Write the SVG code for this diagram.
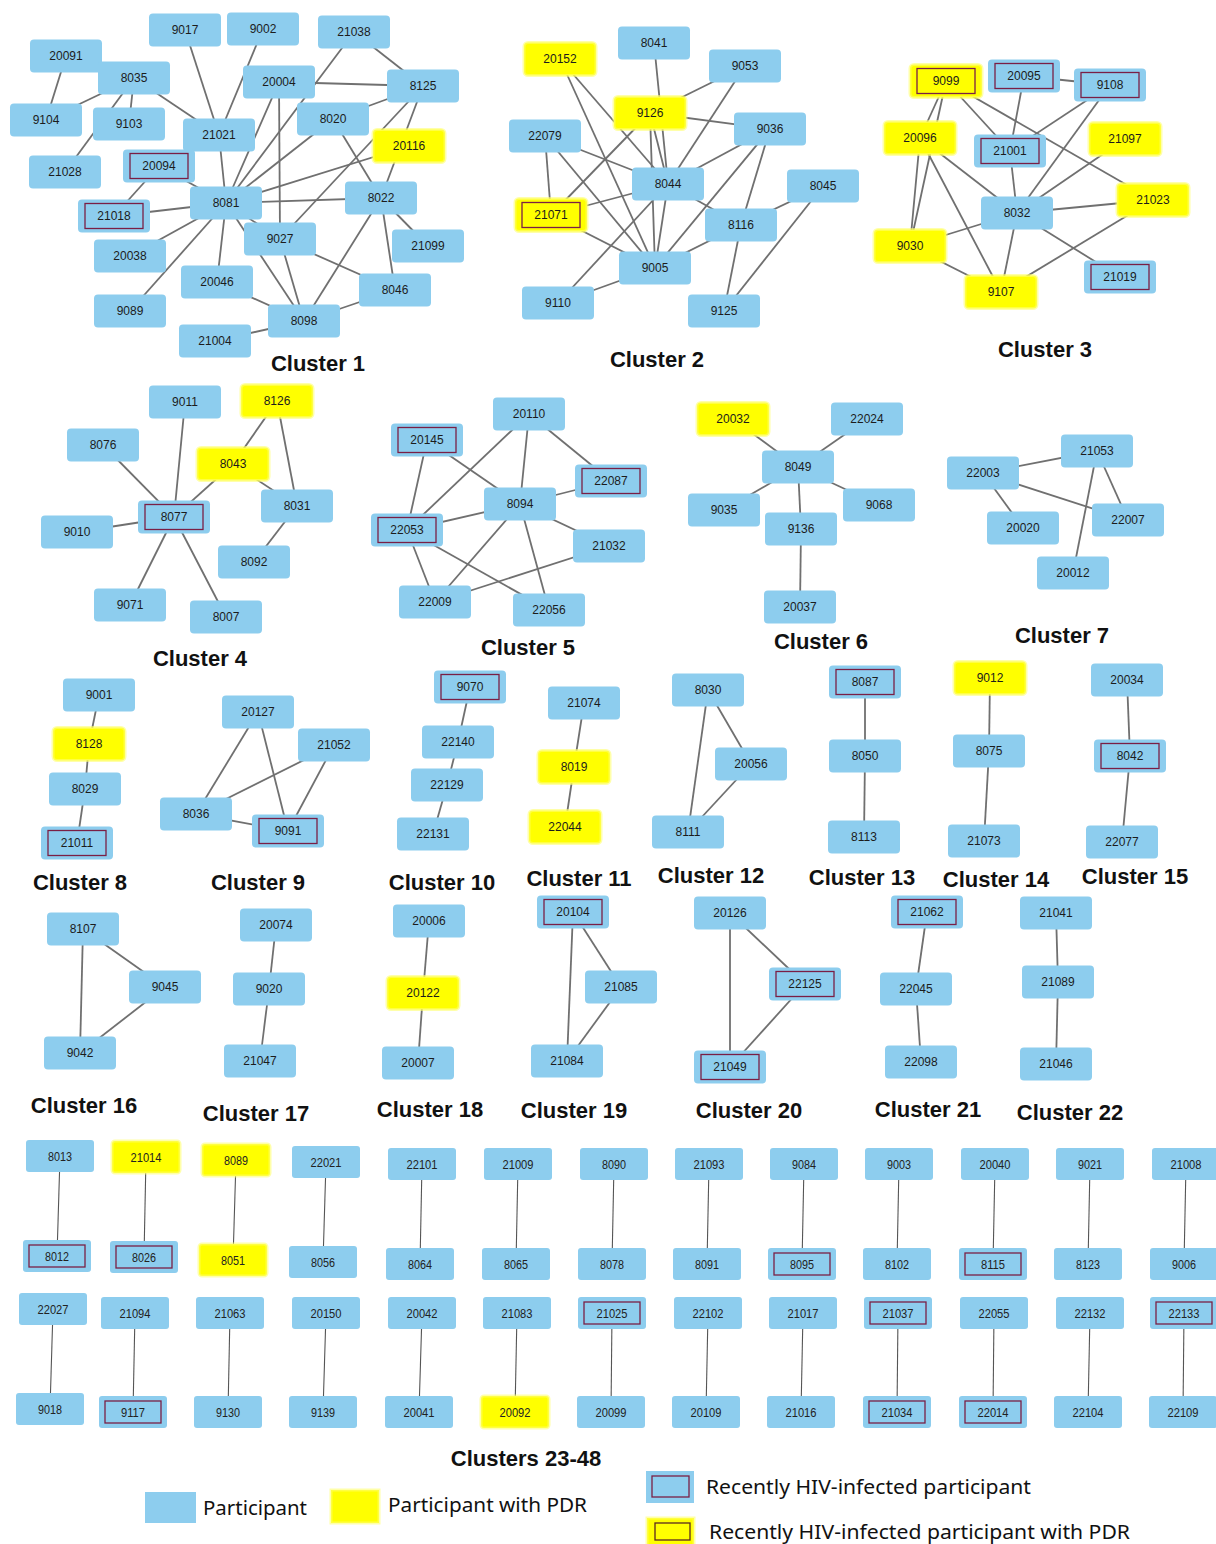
<svg xmlns="http://www.w3.org/2000/svg" xmlns:xlink="http://www.w3.org/1999/xlink" width="1216" height="1544" viewBox="0 0 1216 1544">
<style>
.b{fill:#8DCDEE}
.y{fill:#FFFF00;stroke:#FFFF70;stroke-width:3;stroke-opacity:.6}
.r{fill:none;stroke:#7A1F45;stroke-width:1.3}
.t{font-family:"Liberation Sans",Arial,sans-serif;font-size:12px;fill:#1c1c1c;text-anchor:middle}
.ts{font-family:"Liberation Sans",Arial,sans-serif;font-size:13px;fill:#222;text-anchor:middle}
.e line{stroke:#707070;stroke-width:1.8}
.e2 line{stroke:#555;stroke-width:1.1}
.lbl{font-family:"Liberation Sans",Arial,sans-serif;font-size:22px;font-weight:bold;fill:#111;text-anchor:middle}
.lg{font-family:"Noto Sans","Liberation Sans",sans-serif;font-size:20px;fill:#111}
</style>
<defs>
<rect id="B" x="-36" y="-16.5" width="72" height="33" rx="4"/>
<rect id="R" x="-29" y="-12.5" width="58" height="25"/>
<rect id="S" x="-34" y="-16" width="68" height="32" rx="3"/>
<rect id="RS" x="-28" y="-11" width="56" height="22"/>
</defs>
<rect width="1216" height="1544" fill="#fff"/>

<g id="connectors">
<g class="e">
<!-- cluster 1 -->
<line x1="66" y1="56" x2="46" y2="120"/>
<line x1="134" y1="78" x2="46" y2="120"/>
<line x1="134" y1="78" x2="129" y2="124"/>
<line x1="134" y1="78" x2="65" y2="172"/>
<line x1="134" y1="78" x2="219" y2="135"/>
<line x1="185" y1="30" x2="219" y2="135"/>
<line x1="263" y1="29" x2="219" y2="135"/>
<line x1="219" y1="135" x2="226" y2="203"/>
<line x1="354" y1="32" x2="226" y2="203"/>
<line x1="354" y1="32" x2="423" y2="86"/>
<line x1="279" y1="82" x2="423" y2="86"/>
<line x1="279" y1="82" x2="226" y2="203"/>
<line x1="279" y1="82" x2="280" y2="239"/>
<line x1="333" y1="119" x2="423" y2="86"/>
<line x1="333" y1="119" x2="381" y2="198"/>
<line x1="333" y1="119" x2="226" y2="203"/>
<line x1="423" y1="86" x2="381" y2="198"/>
<line x1="423" y1="86" x2="280" y2="239"/>
<line x1="409" y1="146" x2="226" y2="203"/>
<line x1="226" y1="203" x2="381" y2="198"/>
<line x1="381" y1="198" x2="428" y2="246"/>
<line x1="381" y1="198" x2="395" y2="290"/>
<line x1="381" y1="198" x2="304" y2="321"/>
<line x1="280" y1="239" x2="395" y2="290"/>
<line x1="280" y1="239" x2="304" y2="321"/>
<line x1="226" y1="203" x2="304" y2="321"/>
<line x1="226" y1="203" x2="280" y2="239"/>
<line x1="304" y1="321" x2="395" y2="290"/>
<line x1="304" y1="321" x2="217" y2="282"/>
<line x1="304" y1="321" x2="215" y2="341"/>
<line x1="226" y1="203" x2="217" y2="282"/>
<line x1="226" y1="203" x2="130" y2="311"/>
<line x1="226" y1="203" x2="130" y2="256"/>
<line x1="226" y1="203" x2="114" y2="216"/>
<line x1="159" y1="166" x2="114" y2="216"/>
<line x1="159" y1="166" x2="226" y2="203"/>
<!-- cluster 2 -->
<line x1="654" y1="43" x2="668" y2="184"/>
<line x1="745" y1="66" x2="650" y2="113"/>
<line x1="745" y1="66" x2="668" y2="184"/>
<line x1="650" y1="113" x2="770" y2="129"/>
<line x1="650" y1="113" x2="668" y2="184"/>
<line x1="650" y1="113" x2="655" y2="268"/>
<line x1="650" y1="113" x2="551" y2="215"/>
<line x1="560" y1="59" x2="655" y2="268"/>
<line x1="560" y1="59" x2="668" y2="184"/>
<line x1="545" y1="136" x2="668" y2="184"/>
<line x1="545" y1="136" x2="551" y2="215"/>
<line x1="545" y1="136" x2="655" y2="268"/>
<line x1="551" y1="215" x2="668" y2="184"/>
<line x1="551" y1="215" x2="655" y2="268"/>
<line x1="770" y1="129" x2="668" y2="184"/>
<line x1="770" y1="129" x2="655" y2="268"/>
<line x1="770" y1="129" x2="741" y2="225"/>
<line x1="668" y1="184" x2="558" y2="303"/>
<line x1="668" y1="184" x2="655" y2="268"/>
<line x1="668" y1="184" x2="741" y2="225"/>
<line x1="655" y1="268" x2="558" y2="303"/>
<line x1="655" y1="268" x2="741" y2="225"/>
<line x1="741" y1="225" x2="823" y2="186"/>
<line x1="741" y1="225" x2="724" y2="311"/>
<line x1="823" y1="186" x2="724" y2="311"/>
<!-- cluster 3 -->
<line x1="1024" y1="76" x2="1110" y2="85"/>
<line x1="1024" y1="76" x2="1010" y2="151"/>
<line x1="1110" y1="85" x2="1010" y2="151"/>
<line x1="1110" y1="85" x2="1017" y2="213"/>
<line x1="946" y1="81" x2="920" y2="138"/>
<line x1="946" y1="81" x2="910" y2="246"/>
<line x1="946" y1="81" x2="1010" y2="151"/>
<line x1="946" y1="81" x2="1153" y2="200"/>
<line x1="920" y1="138" x2="910" y2="246"/>
<line x1="920" y1="138" x2="1017" y2="213"/>
<line x1="920" y1="138" x2="1001" y2="292"/>
<line x1="1010" y1="151" x2="1017" y2="213"/>
<line x1="1125" y1="139" x2="1017" y2="213"/>
<line x1="1153" y1="200" x2="1017" y2="213"/>
<line x1="1153" y1="200" x2="1001" y2="292"/>
<line x1="1017" y1="213" x2="910" y2="246"/>
<line x1="1017" y1="213" x2="1001" y2="292"/>
<line x1="1017" y1="213" x2="1120" y2="277"/>
<line x1="910" y1="246" x2="1001" y2="292"/>
<!-- cluster 4 -->
<line x1="185" y1="402" x2="174" y2="517"/>
<line x1="103" y1="445" x2="174" y2="517"/>
<line x1="233" y1="464" x2="174" y2="517"/>
<line x1="277" y1="401" x2="233" y2="464"/>
<line x1="277" y1="401" x2="297" y2="506"/>
<line x1="233" y1="464" x2="297" y2="506"/>
<line x1="297" y1="506" x2="254" y2="562"/>
<line x1="174" y1="517" x2="77" y2="532"/>
<line x1="174" y1="517" x2="130" y2="605"/>
<line x1="174" y1="517" x2="226" y2="617"/>
<!-- cluster 5 -->
<line x1="529" y1="414" x2="407" y2="530"/>
<line x1="529" y1="414" x2="520" y2="504"/>
<line x1="529" y1="414" x2="611" y2="481"/>
<line x1="427" y1="440" x2="407" y2="530"/>
<line x1="427" y1="440" x2="520" y2="504"/>
<line x1="611" y1="481" x2="520" y2="504"/>
<line x1="520" y1="504" x2="407" y2="530"/>
<line x1="520" y1="504" x2="609" y2="546"/>
<line x1="520" y1="504" x2="435" y2="602"/>
<line x1="520" y1="504" x2="549" y2="610"/>
<line x1="407" y1="530" x2="435" y2="602"/>
<line x1="407" y1="530" x2="549" y2="610"/>
<line x1="609" y1="546" x2="435" y2="602"/>
<!-- cluster 6 -->
<line x1="733" y1="419" x2="798" y2="467"/>
<line x1="867" y1="419" x2="798" y2="467"/>
<line x1="798" y1="467" x2="724" y2="510"/>
<line x1="798" y1="467" x2="879" y2="505"/>
<line x1="798" y1="467" x2="801" y2="529"/>
<line x1="801" y1="529" x2="800" y2="607"/>
<!-- cluster 7 -->
<line x1="983" y1="473" x2="1097" y2="451"/>
<line x1="983" y1="473" x2="1023" y2="528"/>
<line x1="983" y1="473" x2="1128" y2="520"/>
<line x1="1097" y1="451" x2="1128" y2="520"/>
<line x1="1097" y1="451" x2="1073" y2="573"/>
<!-- clusters 8-15 -->
<line x1="99" y1="695" x2="89" y2="744"/>
<line x1="89" y1="744" x2="85" y2="789"/>
<line x1="85" y1="789" x2="77" y2="843"/>
<line x1="258" y1="712" x2="196" y2="814"/>
<line x1="258" y1="712" x2="288" y2="831"/>
<line x1="334" y1="745" x2="196" y2="814"/>
<line x1="334" y1="745" x2="288" y2="831"/>
<line x1="196" y1="814" x2="288" y2="831"/>
<line x1="470" y1="687" x2="458" y2="742"/>
<line x1="458" y1="742" x2="447" y2="785"/>
<line x1="447" y1="785" x2="433" y2="834"/>
<line x1="584" y1="703" x2="574" y2="767"/>
<line x1="574" y1="767" x2="565" y2="827"/>
<line x1="708" y1="690" x2="751" y2="764"/>
<line x1="708" y1="690" x2="688" y2="832"/>
<line x1="751" y1="764" x2="688" y2="832"/>
<line x1="865" y1="682" x2="865" y2="756"/>
<line x1="865" y1="756" x2="864" y2="837"/>
<line x1="990" y1="678" x2="989" y2="751"/>
<line x1="989" y1="751" x2="984" y2="841"/>
<line x1="1127" y1="680" x2="1130" y2="756"/>
<line x1="1130" y1="756" x2="1122" y2="842"/>
<!-- clusters 16-22 -->
<line x1="83" y1="929" x2="80" y2="1053"/>
<line x1="83" y1="929" x2="165" y2="987"/>
<line x1="165" y1="987" x2="80" y2="1053"/>
<line x1="276" y1="925" x2="269" y2="989"/>
<line x1="269" y1="989" x2="260" y2="1061"/>
<line x1="429" y1="921" x2="423" y2="993"/>
<line x1="423" y1="993" x2="418" y2="1063"/>
<line x1="573" y1="912" x2="567" y2="1061"/>
<line x1="573" y1="912" x2="621" y2="987"/>
<line x1="621" y1="987" x2="567" y2="1061"/>
<line x1="730" y1="913" x2="730" y2="1067"/>
<line x1="730" y1="913" x2="805" y2="984"/>
<line x1="805" y1="984" x2="730" y2="1067"/>
<line x1="927" y1="912" x2="916" y2="989"/>
<line x1="916" y1="989" x2="921" y2="1062"/>
<line x1="1056" y1="913" x2="1058" y2="982"/>
<line x1="1058" y1="982" x2="1056" y2="1064"/>
</g>
<g class="e2">
<line x1="60" y1="1156" x2="57" y2="1256"/>
<line x1="146" y1="1157" x2="144" y2="1257"/>
<line x1="236" y1="1160" x2="233" y2="1260"/>
<line x1="326" y1="1162" x2="323" y2="1262"/>
<line x1="422" y1="1164" x2="420" y2="1264"/>
<line x1="518" y1="1164" x2="516" y2="1264"/>
<line x1="614" y1="1164" x2="612" y2="1264"/>
<line x1="709" y1="1164" x2="707" y2="1264"/>
<line x1="804" y1="1164" x2="802" y2="1264"/>
<line x1="899" y1="1164" x2="897" y2="1264"/>
<line x1="995" y1="1164" x2="993" y2="1264"/>
<line x1="1090" y1="1164" x2="1088" y2="1264"/>
<line x1="1186" y1="1164" x2="1184" y2="1264"/>
<line x1="53" y1="1309" x2="50" y2="1409"/>
<line x1="135" y1="1313" x2="133" y2="1412"/>
<line x1="230" y1="1313" x2="228" y2="1412"/>
<line x1="326" y1="1313" x2="323" y2="1412"/>
<line x1="422" y1="1313" x2="419" y2="1412"/>
<line x1="517" y1="1313" x2="515" y2="1412"/>
<line x1="612" y1="1313" x2="611" y2="1412"/>
<line x1="708" y1="1313" x2="706" y2="1412"/>
<line x1="803" y1="1313" x2="801" y2="1412"/>
<line x1="898" y1="1313" x2="897" y2="1412"/>
<line x1="994" y1="1313" x2="993" y2="1412"/>
<line x1="1090" y1="1313" x2="1088" y2="1412"/>
<line x1="1184" y1="1313" x2="1183" y2="1412"/>
</g>
</g>

<g id="nodes">
<!-- cluster 1 -->
<g id="n9017" transform="translate(185,30)"><use href="#B" class="b"/><text class="t" y="4">9017</text></g>
<g id="n9002" transform="translate(263,29)"><use href="#B" class="b"/><text class="t" y="4">9002</text></g>
<g id="n21038" transform="translate(354,32)"><use href="#B" class="b"/><text class="t" y="4">21038</text></g>
<g id="n20091" transform="translate(66,56)"><use href="#B" class="b"/><text class="t" y="4">20091</text></g>
<g id="n8035" transform="translate(134,78)"><use href="#B" class="b"/><text class="t" y="4">8035</text></g>
<g id="n20004" transform="translate(279,82)"><use href="#B" class="b"/><text class="t" y="4">20004</text></g>
<g id="n8125" transform="translate(423,86)"><use href="#B" class="b"/><text class="t" y="4">8125</text></g>
<g id="n9104" transform="translate(46,120)"><use href="#B" class="b"/><text class="t" y="4">9104</text></g>
<g id="n9103" transform="translate(129,124)"><use href="#B" class="b"/><text class="t" y="4">9103</text></g>
<g id="n21021" transform="translate(219,135)"><use href="#B" class="b"/><text class="t" y="4">21021</text></g>
<g id="n8020" transform="translate(333,119)"><use href="#B" class="b"/><text class="t" y="4">8020</text></g>
<g id="n20116" transform="translate(409,146)"><use href="#B" class="y"/><text class="t" y="4">20116</text></g>
<g id="n21028" transform="translate(65,172)"><use href="#B" class="b"/><text class="t" y="4">21028</text></g>
<g id="n20094" transform="translate(159,166)"><use href="#B" class="b"/><use href="#R" class="r"/><text class="t" y="4">20094</text></g>
<g id="n8081" transform="translate(226,203)"><use href="#B" class="b"/><text class="t" y="4">8081</text></g>
<g id="n8022" transform="translate(381,198)"><use href="#B" class="b"/><text class="t" y="4">8022</text></g>
<g id="n21018" transform="translate(114,216)"><use href="#B" class="b"/><use href="#R" class="r"/><text class="t" y="4">21018</text></g>
<g id="n9027" transform="translate(280,239)"><use href="#B" class="b"/><text class="t" y="4">9027</text></g>
<g id="n21099" transform="translate(428,246)"><use href="#B" class="b"/><text class="t" y="4">21099</text></g>
<g id="n20038" transform="translate(130,256)"><use href="#B" class="b"/><text class="t" y="4">20038</text></g>
<g id="n20046" transform="translate(217,282)"><use href="#B" class="b"/><text class="t" y="4">20046</text></g>
<g id="n8046" transform="translate(395,290)"><use href="#B" class="b"/><text class="t" y="4">8046</text></g>
<g id="n9089" transform="translate(130,311)"><use href="#B" class="b"/><text class="t" y="4">9089</text></g>
<g id="n8098" transform="translate(304,321)"><use href="#B" class="b"/><text class="t" y="4">8098</text></g>
<g id="n21004" transform="translate(215,341)"><use href="#B" class="b"/><text class="t" y="4">21004</text></g>
<!-- cluster 2 -->
<g id="n20152" transform="translate(560,59)"><use href="#B" class="y"/><text class="t" y="4">20152</text></g>
<g id="n8041" transform="translate(654,43)"><use href="#B" class="b"/><text class="t" y="4">8041</text></g>
<g id="n9053" transform="translate(745,66)"><use href="#B" class="b"/><text class="t" y="4">9053</text></g>
<g id="n9126" transform="translate(650,113)"><use href="#B" class="y"/><text class="t" y="4">9126</text></g>
<g id="n22079" transform="translate(545,136)"><use href="#B" class="b"/><text class="t" y="4">22079</text></g>
<g id="n9036" transform="translate(770,129)"><use href="#B" class="b"/><text class="t" y="4">9036</text></g>
<g id="n8044" transform="translate(668,184)"><use href="#B" class="b"/><text class="t" y="4">8044</text></g>
<g id="n8045" transform="translate(823,186)"><use href="#B" class="b"/><text class="t" y="4">8045</text></g>
<g id="n21071" transform="translate(551,215)"><use href="#B" class="y"/><use href="#R" class="r"/><text class="t" y="4">21071</text></g>
<g id="n8116" transform="translate(741,225)"><use href="#B" class="b"/><text class="t" y="4">8116</text></g>
<g id="n9005" transform="translate(655,268)"><use href="#B" class="b"/><text class="t" y="4">9005</text></g>
<g id="n9110" transform="translate(558,303)"><use href="#B" class="b"/><text class="t" y="4">9110</text></g>
<g id="n9125" transform="translate(724,311)"><use href="#B" class="b"/><text class="t" y="4">9125</text></g>
<!-- cluster 3 -->
<g id="n9099" transform="translate(946,81)"><use href="#B" class="y"/><use href="#R" class="r"/><text class="t" y="4">9099</text></g>
<g id="n20095" transform="translate(1024,76)"><use href="#B" class="b"/><use href="#R" class="r"/><text class="t" y="4">20095</text></g>
<g id="n9108" transform="translate(1110,85)"><use href="#B" class="b"/><use href="#R" class="r"/><text class="t" y="4">9108</text></g>
<g id="n20096" transform="translate(920,138)"><use href="#B" class="y"/><text class="t" y="4">20096</text></g>
<g id="n21001" transform="translate(1010,151)"><use href="#B" class="b"/><use href="#R" class="r"/><text class="t" y="4">21001</text></g>
<g id="n21097" transform="translate(1125,139)"><use href="#B" class="y"/><text class="t" y="4">21097</text></g>
<g id="n21023" transform="translate(1153,200)"><use href="#B" class="y"/><text class="t" y="4">21023</text></g>
<g id="n8032" transform="translate(1017,213)"><use href="#B" class="b"/><text class="t" y="4">8032</text></g>
<g id="n9030" transform="translate(910,246)"><use href="#B" class="y"/><text class="t" y="4">9030</text></g>
<g id="n21019" transform="translate(1120,277)"><use href="#B" class="b"/><use href="#R" class="r"/><text class="t" y="4">21019</text></g>
<g id="n9107" transform="translate(1001,292)"><use href="#B" class="y"/><text class="t" y="4">9107</text></g>
<!-- cluster 4 -->
<g id="n9011" transform="translate(185,402)"><use href="#B" class="b"/><text class="t" y="4">9011</text></g>
<g id="n8126" transform="translate(277,401)"><use href="#B" class="y"/><text class="t" y="4">8126</text></g>
<g id="n8076" transform="translate(103,445)"><use href="#B" class="b"/><text class="t" y="4">8076</text></g>
<g id="n8043" transform="translate(233,464)"><use href="#B" class="y"/><text class="t" y="4">8043</text></g>
<g id="n8077" transform="translate(174,517)"><use href="#B" class="b"/><use href="#R" class="r"/><text class="t" y="4">8077</text></g>
<g id="n8031" transform="translate(297,506)"><use href="#B" class="b"/><text class="t" y="4">8031</text></g>
<g id="n9010" transform="translate(77,532)"><use href="#B" class="b"/><text class="t" y="4">9010</text></g>
<g id="n8092" transform="translate(254,562)"><use href="#B" class="b"/><text class="t" y="4">8092</text></g>
<g id="n9071" transform="translate(130,605)"><use href="#B" class="b"/><text class="t" y="4">9071</text></g>
<g id="n8007" transform="translate(226,617)"><use href="#B" class="b"/><text class="t" y="4">8007</text></g>
<!-- cluster 5 -->
<g id="n20110" transform="translate(529,414)"><use href="#B" class="b"/><text class="t" y="4">20110</text></g>
<g id="n20145" transform="translate(427,440)"><use href="#B" class="b"/><use href="#R" class="r"/><text class="t" y="4">20145</text></g>
<g id="n22087" transform="translate(611,481)"><use href="#B" class="b"/><use href="#R" class="r"/><text class="t" y="4">22087</text></g>
<g id="n8094" transform="translate(520,504)"><use href="#B" class="b"/><text class="t" y="4">8094</text></g>
<g id="n22053" transform="translate(407,530)"><use href="#B" class="b"/><use href="#R" class="r"/><text class="t" y="4">22053</text></g>
<g id="n21032" transform="translate(609,546)"><use href="#B" class="b"/><text class="t" y="4">21032</text></g>
<g id="n22009" transform="translate(435,602)"><use href="#B" class="b"/><text class="t" y="4">22009</text></g>
<g id="n22056" transform="translate(549,610)"><use href="#B" class="b"/><text class="t" y="4">22056</text></g>
<!-- cluster 6 -->
<g id="n20032" transform="translate(733,419)"><use href="#B" class="y"/><text class="t" y="4">20032</text></g>
<g id="n22024" transform="translate(867,419)"><use href="#B" class="b"/><text class="t" y="4">22024</text></g>
<g id="n8049" transform="translate(798,467)"><use href="#B" class="b"/><text class="t" y="4">8049</text></g>
<g id="n9035" transform="translate(724,510)"><use href="#B" class="b"/><text class="t" y="4">9035</text></g>
<g id="n9068" transform="translate(879,505)"><use href="#B" class="b"/><text class="t" y="4">9068</text></g>
<g id="n9136" transform="translate(801,529)"><use href="#B" class="b"/><text class="t" y="4">9136</text></g>
<g id="n20037" transform="translate(800,607)"><use href="#B" class="b"/><text class="t" y="4">20037</text></g>
<!-- cluster 7 -->
<g id="n21053" transform="translate(1097,451)"><use href="#B" class="b"/><text class="t" y="4">21053</text></g>
<g id="n22003" transform="translate(983,473)"><use href="#B" class="b"/><text class="t" y="4">22003</text></g>
<g id="n20020" transform="translate(1023,528)"><use href="#B" class="b"/><text class="t" y="4">20020</text></g>
<g id="n22007" transform="translate(1128,520)"><use href="#B" class="b"/><text class="t" y="4">22007</text></g>
<g id="n20012" transform="translate(1073,573)"><use href="#B" class="b"/><text class="t" y="4">20012</text></g>
<!-- clusters 8-15 -->
<g id="n9001" transform="translate(99,695)"><use href="#B" class="b"/><text class="t" y="4">9001</text></g>
<g id="n8128" transform="translate(89,744)"><use href="#B" class="y"/><text class="t" y="4">8128</text></g>
<g id="n8029" transform="translate(85,789)"><use href="#B" class="b"/><text class="t" y="4">8029</text></g>
<g id="n21011" transform="translate(77,843)"><use href="#B" class="b"/><use href="#R" class="r"/><text class="t" y="4">21011</text></g>
<g id="n20127" transform="translate(258,712)"><use href="#B" class="b"/><text class="t" y="4">20127</text></g>
<g id="n21052" transform="translate(334,745)"><use href="#B" class="b"/><text class="t" y="4">21052</text></g>
<g id="n8036" transform="translate(196,814)"><use href="#B" class="b"/><text class="t" y="4">8036</text></g>
<g id="n9091" transform="translate(288,831)"><use href="#B" class="b"/><use href="#R" class="r"/><text class="t" y="4">9091</text></g>
<g id="n9070" transform="translate(470,687)"><use href="#B" class="b"/><use href="#R" class="r"/><text class="t" y="4">9070</text></g>
<g id="n22140" transform="translate(458,742)"><use href="#B" class="b"/><text class="t" y="4">22140</text></g>
<g id="n22129" transform="translate(447,785)"><use href="#B" class="b"/><text class="t" y="4">22129</text></g>
<g id="n22131" transform="translate(433,834)"><use href="#B" class="b"/><text class="t" y="4">22131</text></g>
<g id="n21074" transform="translate(584,703)"><use href="#B" class="b"/><text class="t" y="4">21074</text></g>
<g id="n8019" transform="translate(574,767)"><use href="#B" class="y"/><text class="t" y="4">8019</text></g>
<g id="n22044" transform="translate(565,827)"><use href="#B" class="y"/><text class="t" y="4">22044</text></g>
<g id="n8030" transform="translate(708,690)"><use href="#B" class="b"/><text class="t" y="4">8030</text></g>
<g id="n20056" transform="translate(751,764)"><use href="#B" class="b"/><text class="t" y="4">20056</text></g>
<g id="n8111" transform="translate(688,832)"><use href="#B" class="b"/><text class="t" y="4">8111</text></g>
<g id="n8087" transform="translate(865,682)"><use href="#B" class="b"/><use href="#R" class="r"/><text class="t" y="4">8087</text></g>
<g id="n8050" transform="translate(865,756)"><use href="#B" class="b"/><text class="t" y="4">8050</text></g>
<g id="n8113" transform="translate(864,837)"><use href="#B" class="b"/><text class="t" y="4">8113</text></g>
<g id="n9012" transform="translate(990,678)"><use href="#B" class="y"/><text class="t" y="4">9012</text></g>
<g id="n8075" transform="translate(989,751)"><use href="#B" class="b"/><text class="t" y="4">8075</text></g>
<g id="n21073" transform="translate(984,841)"><use href="#B" class="b"/><text class="t" y="4">21073</text></g>
<g id="n20034" transform="translate(1127,680)"><use href="#B" class="b"/><text class="t" y="4">20034</text></g>
<g id="n8042" transform="translate(1130,756)"><use href="#B" class="b"/><use href="#R" class="r"/><text class="t" y="4">8042</text></g>
<g id="n22077" transform="translate(1122,842)"><use href="#B" class="b"/><text class="t" y="4">22077</text></g>
<!-- clusters 16-22 -->
<g id="n8107" transform="translate(83,929)"><use href="#B" class="b"/><text class="t" y="4">8107</text></g>
<g id="n9045" transform="translate(165,987)"><use href="#B" class="b"/><text class="t" y="4">9045</text></g>
<g id="n9042" transform="translate(80,1053)"><use href="#B" class="b"/><text class="t" y="4">9042</text></g>
<g id="n20074" transform="translate(276,925)"><use href="#B" class="b"/><text class="t" y="4">20074</text></g>
<g id="n9020" transform="translate(269,989)"><use href="#B" class="b"/><text class="t" y="4">9020</text></g>
<g id="n21047" transform="translate(260,1061)"><use href="#B" class="b"/><text class="t" y="4">21047</text></g>
<g id="n20006" transform="translate(429,921)"><use href="#B" class="b"/><text class="t" y="4">20006</text></g>
<g id="n20122" transform="translate(423,993)"><use href="#B" class="y"/><text class="t" y="4">20122</text></g>
<g id="n20007" transform="translate(418,1063)"><use href="#B" class="b"/><text class="t" y="4">20007</text></g>
<g id="n20104" transform="translate(573,912)"><use href="#B" class="b"/><use href="#R" class="r"/><text class="t" y="4">20104</text></g>
<g id="n21085" transform="translate(621,987)"><use href="#B" class="b"/><text class="t" y="4">21085</text></g>
<g id="n21084" transform="translate(567,1061)"><use href="#B" class="b"/><text class="t" y="4">21084</text></g>
<g id="n20126" transform="translate(730,913)"><use href="#B" class="b"/><text class="t" y="4">20126</text></g>
<g id="n22125" transform="translate(805,984)"><use href="#B" class="b"/><use href="#R" class="r"/><text class="t" y="4">22125</text></g>
<g id="n21049" transform="translate(730,1067)"><use href="#B" class="b"/><use href="#R" class="r"/><text class="t" y="4">21049</text></g>
<g id="n21062" transform="translate(927,912)"><use href="#B" class="b"/><use href="#R" class="r"/><text class="t" y="4">21062</text></g>
<g id="n22045" transform="translate(916,989)"><use href="#B" class="b"/><text class="t" y="4">22045</text></g>
<g id="n22098" transform="translate(921,1062)"><use href="#B" class="b"/><text class="t" y="4">22098</text></g>
<g id="n21041" transform="translate(1056,913)"><use href="#B" class="b"/><text class="t" y="4">21041</text></g>
<g id="n21089" transform="translate(1058,982)"><use href="#B" class="b"/><text class="t" y="4">21089</text></g>
<g id="n21046" transform="translate(1056,1064)"><use href="#B" class="b"/><text class="t" y="4">21046</text></g>
<!-- clusters 23-48 -->
<g id="n8013" transform="translate(60,1156)"><use href="#S" class="b"/><text class="ts" y="4.5" textLength="24" lengthAdjust="spacingAndGlyphs">8013</text></g>
<g id="n21014" transform="translate(146,1157)"><use href="#S" class="y"/><text class="ts" y="4.5" textLength="31" lengthAdjust="spacingAndGlyphs">21014</text></g>
<g id="n8089" transform="translate(236,1160)"><use href="#S" class="y"/><text class="ts" y="4.5" textLength="24" lengthAdjust="spacingAndGlyphs">8089</text></g>
<g id="n22021" transform="translate(326,1162)"><use href="#S" class="b"/><text class="ts" y="4.5" textLength="31" lengthAdjust="spacingAndGlyphs">22021</text></g>
<g id="n22101" transform="translate(422,1164)"><use href="#S" class="b"/><text class="ts" y="4.5" textLength="31" lengthAdjust="spacingAndGlyphs">22101</text></g>
<g id="n21009" transform="translate(518,1164)"><use href="#S" class="b"/><text class="ts" y="4.5" textLength="31" lengthAdjust="spacingAndGlyphs">21009</text></g>
<g id="n8090" transform="translate(614,1164)"><use href="#S" class="b"/><text class="ts" y="4.5" textLength="24" lengthAdjust="spacingAndGlyphs">8090</text></g>
<g id="n21093" transform="translate(709,1164)"><use href="#S" class="b"/><text class="ts" y="4.5" textLength="31" lengthAdjust="spacingAndGlyphs">21093</text></g>
<g id="n9084" transform="translate(804,1164)"><use href="#S" class="b"/><text class="ts" y="4.5" textLength="24" lengthAdjust="spacingAndGlyphs">9084</text></g>
<g id="n9003" transform="translate(899,1164)"><use href="#S" class="b"/><text class="ts" y="4.5" textLength="24" lengthAdjust="spacingAndGlyphs">9003</text></g>
<g id="n20040" transform="translate(995,1164)"><use href="#S" class="b"/><text class="ts" y="4.5" textLength="31" lengthAdjust="spacingAndGlyphs">20040</text></g>
<g id="n9021" transform="translate(1090,1164)"><use href="#S" class="b"/><text class="ts" y="4.5" textLength="24" lengthAdjust="spacingAndGlyphs">9021</text></g>
<g id="n21008" transform="translate(1186,1164)"><use href="#S" class="b"/><text class="ts" y="4.5" textLength="31" lengthAdjust="spacingAndGlyphs">21008</text></g>
<g id="n8012" transform="translate(57,1256)"><use href="#S" class="b"/><use href="#RS" class="r"/><text class="ts" y="4.5" textLength="24" lengthAdjust="spacingAndGlyphs">8012</text></g>
<g id="n8026" transform="translate(144,1257)"><use href="#S" class="b"/><use href="#RS" class="r"/><text class="ts" y="4.5" textLength="24" lengthAdjust="spacingAndGlyphs">8026</text></g>
<g id="n8051" transform="translate(233,1260)"><use href="#S" class="y"/><text class="ts" y="4.5" textLength="24" lengthAdjust="spacingAndGlyphs">8051</text></g>
<g id="n8056" transform="translate(323,1262)"><use href="#S" class="b"/><text class="ts" y="4.5" textLength="24" lengthAdjust="spacingAndGlyphs">8056</text></g>
<g id="n8064" transform="translate(420,1264)"><use href="#S" class="b"/><text class="ts" y="4.5" textLength="24" lengthAdjust="spacingAndGlyphs">8064</text></g>
<g id="n8065" transform="translate(516,1264)"><use href="#S" class="b"/><text class="ts" y="4.5" textLength="24" lengthAdjust="spacingAndGlyphs">8065</text></g>
<g id="n8078" transform="translate(612,1264)"><use href="#S" class="b"/><text class="ts" y="4.5" textLength="24" lengthAdjust="spacingAndGlyphs">8078</text></g>
<g id="n8091" transform="translate(707,1264)"><use href="#S" class="b"/><text class="ts" y="4.5" textLength="24" lengthAdjust="spacingAndGlyphs">8091</text></g>
<g id="n8095" transform="translate(802,1264)"><use href="#S" class="b"/><use href="#RS" class="r"/><text class="ts" y="4.5" textLength="24" lengthAdjust="spacingAndGlyphs">8095</text></g>
<g id="n8102" transform="translate(897,1264)"><use href="#S" class="b"/><text class="ts" y="4.5" textLength="24" lengthAdjust="spacingAndGlyphs">8102</text></g>
<g id="n8115" transform="translate(993,1264)"><use href="#S" class="b"/><use href="#RS" class="r"/><text class="ts" y="4.5" textLength="24" lengthAdjust="spacingAndGlyphs">8115</text></g>
<g id="n8123" transform="translate(1088,1264)"><use href="#S" class="b"/><text class="ts" y="4.5" textLength="24" lengthAdjust="spacingAndGlyphs">8123</text></g>
<g id="n9006" transform="translate(1184,1264)"><use href="#S" class="b"/><text class="ts" y="4.5" textLength="24" lengthAdjust="spacingAndGlyphs">9006</text></g>
<g id="n22027" transform="translate(53,1309)"><use href="#S" class="b"/><text class="ts" y="4.5" textLength="31" lengthAdjust="spacingAndGlyphs">22027</text></g>
<g id="n21094" transform="translate(135,1313)"><use href="#S" class="b"/><text class="ts" y="4.5" textLength="31" lengthAdjust="spacingAndGlyphs">21094</text></g>
<g id="n21063" transform="translate(230,1313)"><use href="#S" class="b"/><text class="ts" y="4.5" textLength="31" lengthAdjust="spacingAndGlyphs">21063</text></g>
<g id="n20150" transform="translate(326,1313)"><use href="#S" class="b"/><text class="ts" y="4.5" textLength="31" lengthAdjust="spacingAndGlyphs">20150</text></g>
<g id="n20042" transform="translate(422,1313)"><use href="#S" class="b"/><text class="ts" y="4.5" textLength="31" lengthAdjust="spacingAndGlyphs">20042</text></g>
<g id="n21083" transform="translate(517,1313)"><use href="#S" class="b"/><text class="ts" y="4.5" textLength="31" lengthAdjust="spacingAndGlyphs">21083</text></g>
<g id="n21025" transform="translate(612,1313)"><use href="#S" class="b"/><use href="#RS" class="r"/><text class="ts" y="4.5" textLength="31" lengthAdjust="spacingAndGlyphs">21025</text></g>
<g id="n22102" transform="translate(708,1313)"><use href="#S" class="b"/><text class="ts" y="4.5" textLength="31" lengthAdjust="spacingAndGlyphs">22102</text></g>
<g id="n21017" transform="translate(803,1313)"><use href="#S" class="b"/><text class="ts" y="4.5" textLength="31" lengthAdjust="spacingAndGlyphs">21017</text></g>
<g id="n21037" transform="translate(898,1313)"><use href="#S" class="b"/><use href="#RS" class="r"/><text class="ts" y="4.5" textLength="31" lengthAdjust="spacingAndGlyphs">21037</text></g>
<g id="n22055" transform="translate(994,1313)"><use href="#S" class="b"/><text class="ts" y="4.5" textLength="31" lengthAdjust="spacingAndGlyphs">22055</text></g>
<g id="n22132" transform="translate(1090,1313)"><use href="#S" class="b"/><text class="ts" y="4.5" textLength="31" lengthAdjust="spacingAndGlyphs">22132</text></g>
<g id="n22133" transform="translate(1184,1313)"><use href="#S" class="b"/><use href="#RS" class="r"/><text class="ts" y="4.5" textLength="31" lengthAdjust="spacingAndGlyphs">22133</text></g>
<g id="n9018" transform="translate(50,1409)"><use href="#S" class="b"/><text class="ts" y="4.5" textLength="24" lengthAdjust="spacingAndGlyphs">9018</text></g>
<g id="n9117" transform="translate(133,1412)"><use href="#S" class="b"/><use href="#RS" class="r"/><text class="ts" y="4.5" textLength="24" lengthAdjust="spacingAndGlyphs">9117</text></g>
<g id="n9130" transform="translate(228,1412)"><use href="#S" class="b"/><text class="ts" y="4.5" textLength="24" lengthAdjust="spacingAndGlyphs">9130</text></g>
<g id="n9139" transform="translate(323,1412)"><use href="#S" class="b"/><text class="ts" y="4.5" textLength="24" lengthAdjust="spacingAndGlyphs">9139</text></g>
<g id="n20041" transform="translate(419,1412)"><use href="#S" class="b"/><text class="ts" y="4.5" textLength="31" lengthAdjust="spacingAndGlyphs">20041</text></g>
<g id="n20092" transform="translate(515,1412)"><use href="#S" class="y"/><text class="ts" y="4.5" textLength="31" lengthAdjust="spacingAndGlyphs">20092</text></g>
<g id="n20099" transform="translate(611,1412)"><use href="#S" class="b"/><text class="ts" y="4.5" textLength="31" lengthAdjust="spacingAndGlyphs">20099</text></g>
<g id="n20109" transform="translate(706,1412)"><use href="#S" class="b"/><text class="ts" y="4.5" textLength="31" lengthAdjust="spacingAndGlyphs">20109</text></g>
<g id="n21016" transform="translate(801,1412)"><use href="#S" class="b"/><text class="ts" y="4.5" textLength="31" lengthAdjust="spacingAndGlyphs">21016</text></g>
<g id="n21034" transform="translate(897,1412)"><use href="#S" class="b"/><use href="#RS" class="r"/><text class="ts" y="4.5" textLength="31" lengthAdjust="spacingAndGlyphs">21034</text></g>
<g id="n22014" transform="translate(993,1412)"><use href="#S" class="b"/><use href="#RS" class="r"/><text class="ts" y="4.5" textLength="31" lengthAdjust="spacingAndGlyphs">22014</text></g>
<g id="n22104" transform="translate(1088,1412)"><use href="#S" class="b"/><text class="ts" y="4.5" textLength="31" lengthAdjust="spacingAndGlyphs">22104</text></g>
<g id="n22109" transform="translate(1183,1412)"><use href="#S" class="b"/><text class="ts" y="4.5" textLength="31" lengthAdjust="spacingAndGlyphs">22109</text></g>
</g>

<g id="labels">
<text class="lbl" x="318" y="371">Cluster 1</text>
<text class="lbl" x="657" y="367">Cluster 2</text>
<text class="lbl" x="1045" y="357">Cluster 3</text>
<text class="lbl" x="200" y="666">Cluster 4</text>
<text class="lbl" x="528" y="655">Cluster 5</text>
<text class="lbl" x="821" y="649">Cluster 6</text>
<text class="lbl" x="1062" y="643">Cluster 7</text>
<text class="lbl" x="80" y="890">Cluster 8</text>
<text class="lbl" x="258" y="890">Cluster 9</text>
<text class="lbl" x="442" y="890">Cluster 10</text>
<text class="lbl" x="579" y="886">Cluster 11</text>
<text class="lbl" x="711" y="883">Cluster 12</text>
<text class="lbl" x="862" y="885">Cluster 13</text>
<text class="lbl" x="996" y="887">Cluster 14</text>
<text class="lbl" x="1135" y="884">Cluster 15</text>
<text class="lbl" x="84" y="1113">Cluster 16</text>
<text class="lbl" x="256" y="1121">Cluster 17</text>
<text class="lbl" x="430" y="1117">Cluster 18</text>
<text class="lbl" x="574" y="1118">Cluster 19</text>
<text class="lbl" x="749" y="1118">Cluster 20</text>
<text class="lbl" x="928" y="1117">Cluster 21</text>
<text class="lbl" x="1070" y="1120">Cluster 22</text>
<text class="lbl" x="526" y="1466">Clusters 23-48</text>
</g>

<g id="legend">
<rect x="145" y="1492" width="51" height="31" fill="#8DCDEE"/>
<text class="lg" x="203" y="1515" textLength="104" lengthAdjust="spacingAndGlyphs">Participant</text>
<rect x="331" y="1490" width="48" height="33" fill="#FFFF00" stroke="#FFFF70" stroke-width="3" stroke-opacity=".6"/>
<text class="lg" x="388" y="1512" textLength="199" lengthAdjust="spacingAndGlyphs">Participant with PDR</text>
<rect x="646" y="1471" width="48" height="32" fill="#8DCDEE"/>
<rect x="652" y="1476" width="37" height="21" fill="none" stroke="#7A1F45" stroke-width="1.3"/>
<text class="lg" x="706" y="1494" textLength="325" lengthAdjust="spacingAndGlyphs">Recently HIV-infected participant</text>
<rect x="647" y="1518" width="47" height="28" fill="#FFFF00" stroke="#FFFF70" stroke-width="3" stroke-opacity=".6"/>
<rect x="655" y="1523" width="35" height="17" fill="none" stroke="#5a2a20" stroke-width="1.3"/>
<text class="lg" x="709" y="1539" textLength="421" lengthAdjust="spacingAndGlyphs">Recently HIV-infected participant with PDR</text>
</g>
</svg>
